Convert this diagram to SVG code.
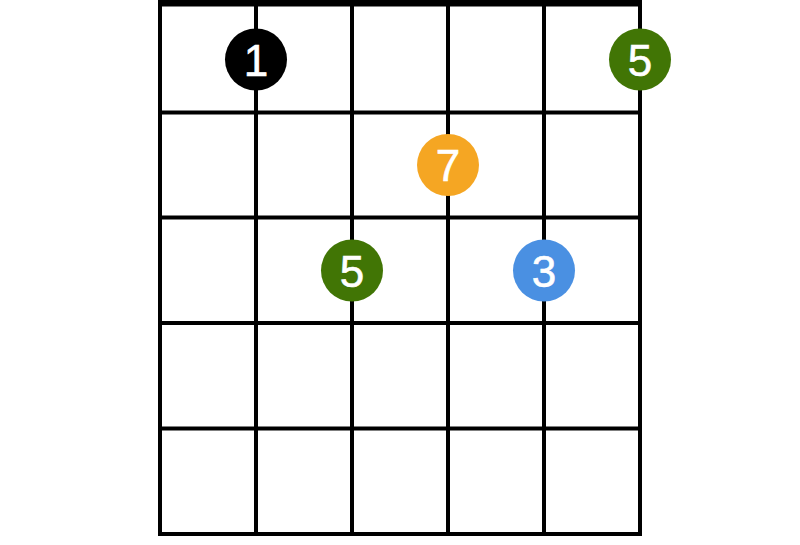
<svg xmlns="http://www.w3.org/2000/svg" width="800" height="545" viewBox="0 0 800 545">
<style>
.grid line{stroke:#000;stroke-width:4}
.dot text{font-family:"Liberation Sans",Arial,sans-serif;font-size:44px;fill:#fff;stroke:#fff;stroke-width:0.6;text-anchor:middle}
</style>
<rect width="800" height="545" fill="#fff"/>
<g id="grid" class="grid">
<rect x="158" y="0" width="484" height="6.5" fill="#000"/>
<line x1="160" y1="0" x2="160" y2="536"/>
<line x1="256" y1="0" x2="256" y2="536"/>
<line x1="352" y1="0" x2="352" y2="536"/>
<line x1="448" y1="0" x2="448" y2="536"/>
<line x1="544" y1="0" x2="544" y2="536"/>
<line x1="640" y1="0" x2="640" y2="536"/>
<line x1="158" y1="112.5" x2="642" y2="112.5"/>
<line x1="158" y1="217.5" x2="642" y2="217.5"/>
<line x1="158" y1="323" x2="642" y2="323"/>
<line x1="158" y1="428.5" x2="642" y2="428.5"/>
<line x1="158" y1="534" x2="642" y2="534"/>
</g>
<g id="dot-1" class="dot"><circle cx="256" cy="59.5" r="31" fill="#000"/><text x="256" y="75.5">1</text></g>
<g id="dot-5a" class="dot"><circle cx="640" cy="59.5" r="31" fill="#417505"/><text x="640" y="75.5">5</text></g>
<g id="dot-7" class="dot"><circle cx="448" cy="165" r="31" fill="#F5A623"/><text x="448" y="181">7</text></g>
<g id="dot-5b" class="dot"><circle cx="352" cy="270.5" r="31" fill="#417505"/><text x="352" y="286.5">5</text></g>
<g id="dot-3" class="dot"><circle cx="544" cy="270.5" r="31" fill="#4A90E2"/><text x="544" y="286.5">3</text></g>
</svg>
